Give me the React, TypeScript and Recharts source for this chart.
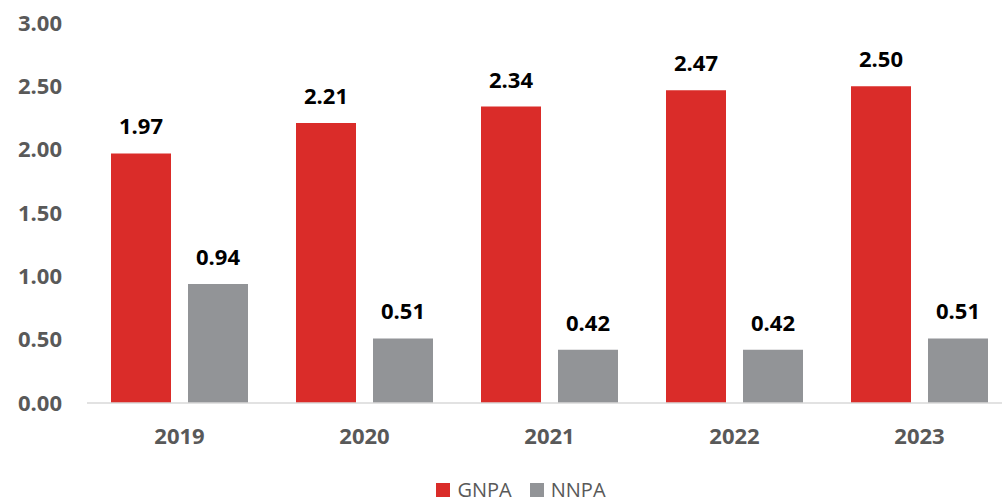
import React from "react";
import { BarChart, Bar, XAxis, YAxis, Legend, LabelList } from "recharts";

const categories = ["2019", "2020", "2021", "2022", "2023"];
const gnpa = [1.97, 2.21, 2.34, 2.47, 2.5];
const nnpa = [0.94, 0.51, 0.42, 0.42, 0.51];
const yTicks = [0, 0.5, 1, 1.5, 2, 2.5, 3];
const seriesNames = ["GNPA", "NNPA"];
const seriesColors = ["#DA2C29", "#929497"];

const data = categories.map((c, i) => ({ year: c, GNPA: gnpa[i], NNPA: nnpa[i] }));

const FONT = "'Open Sans', 'Noto Sans', sans-serif";

const LegendContent = () => (
  <div style={{ display: "flex", justifyContent: "center", alignItems: "center", fontFamily: FONT, fontSize: 20, color: "#595959", lineHeight: "26px", paddingLeft: 30 }}>
    {seriesNames.map((n, i) => (
      <div key={n} style={{ display: "flex", alignItems: "center", marginRight: i === 0 ? 18 : 0 }}>
        <span style={{ display: "inline-block", width: 14, height: 14, background: seriesColors[i], marginRight: 7 }} />
        <span>{n}</span>
      </div>
    ))}
  </div>
);

export default function App() {
  return (
    <div style={{ position: "absolute", left: 0, top: 0, width: 1002, height: 503, overflow: "hidden", background: "#fff" }}>
      <BarChart
        width={1012}
        height={503}
        data={data}
        margin={{ top: 23, right: 0, left: 0, bottom: 0 }}
        barGap={17}
        barCategoryGap={24}
      >
        <XAxis
          dataKey="year"
          axisLine={{ stroke: "#d9d9d9", strokeWidth: 1.5 }}
          tickLine={false}
          tickSize={0}
          tickMargin={25}
          height={74}
          tick={{ fill: "#595959", fontSize: 22, fontWeight: 700, fontFamily: FONT }}
        />
        <YAxis
          domain={[0, 3]}
          ticks={yTicks}
          interval={0}
          axisLine={false}
          tickLine={false}
          tickSize={0}
          tickMargin={25}
          width={87}
          tickFormatter={(v: number) => v.toFixed(2)}
          tick={{ fill: "#595959", fontSize: 22, fontWeight: 700, fontFamily: FONT }}
        />
        <Legend
          verticalAlign="bottom"
          align="center"
          height={26}
          wrapperStyle={{ bottom: 0 }}
          content={<LegendContent />}
        />
        <Bar dataKey="GNPA" fill={seriesColors[0]} barSize={60} isAnimationActive={false}>
          <LabelList
            dataKey="GNPA"
            position="top"
            offset={19}
            formatter={(v: number) => v.toFixed(2)}
            style={{ fill: "#000", fontSize: 22, fontWeight: 700, fontFamily: FONT }}
          />
        </Bar>
        <Bar dataKey="NNPA" fill={seriesColors[1]} barSize={60} isAnimationActive={false}>
          <LabelList
            dataKey="NNPA"
            position="top"
            offset={19}
            formatter={(v: number) => v.toFixed(2)}
            style={{ fill: "#000", fontSize: 22, fontWeight: 700, fontFamily: FONT }}
          />
        </Bar>
      </BarChart>
    </div>
  );
}
